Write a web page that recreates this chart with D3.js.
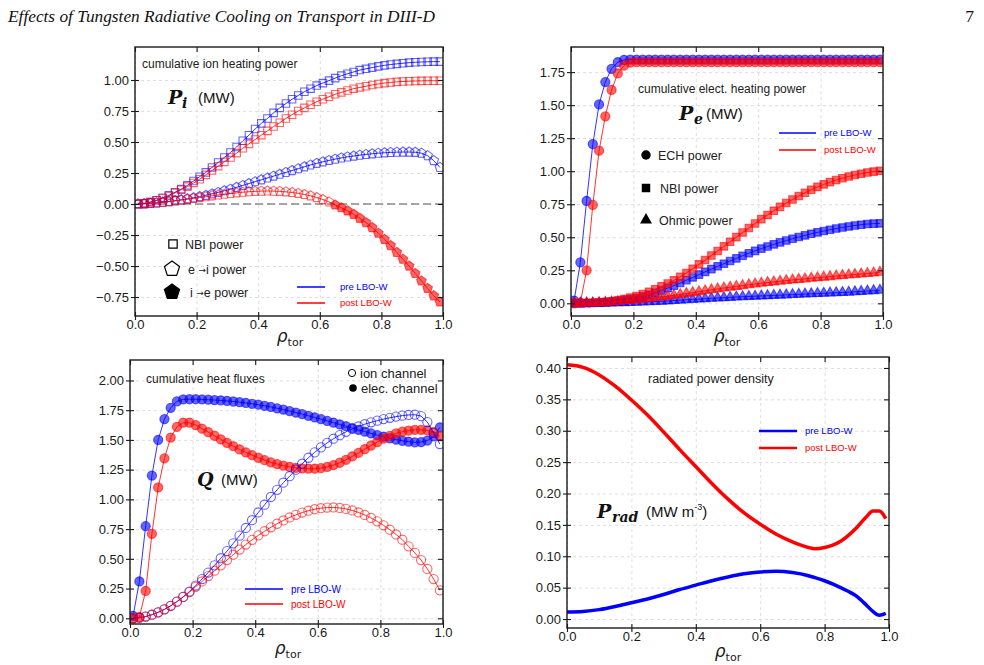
<!DOCTYPE html>
<html><head><meta charset="utf-8">
<script src="https://cdn.jsdelivr.net/npm/d3@7"></script>
<style>body{margin:0;background:#fff}svg{display:block}</style>
</head><body>
<svg id="chart" width="984" height="665"></svg>
<script>
// ---------------- DATA ----------------
const rho = [0.01,0.03,0.05,0.07,0.09,0.11,0.13,0.15,0.17,0.19,0.21,0.23,0.25,0.27,0.29,0.31,0.33,0.35,0.37,0.39,0.41,0.43,0.45,0.47,0.49,0.51,0.53,0.55,0.57,0.59,0.61,0.63,0.65,0.67,0.69,0.71,0.73,0.75,0.77,0.79,0.81,0.83,0.85,0.87,0.89,0.91,0.93,0.95,0.97,0.99];
const xTicks = [0.0,0.2,0.4,0.6,0.8,1.0];

// Panel 1: cumulative ion heating power
const piNbiPre  = [0.000,0.005,0.015,0.030,0.050,0.070,0.095,0.120,0.150,0.185,0.220,0.255,0.295,0.335,0.375,0.415,0.460,0.510,0.555,0.605,0.650,0.690,0.735,0.775,0.810,0.845,0.875,0.905,0.930,0.955,0.975,0.995,1.015,1.035,1.050,1.065,1.080,1.090,1.100,1.110,1.118,1.125,1.130,1.135,1.140,1.143,1.145,1.147,1.148,1.148];
const piNbiPost = [0.000,0.005,0.015,0.030,0.045,0.065,0.090,0.115,0.140,0.170,0.200,0.235,0.270,0.305,0.340,0.375,0.410,0.450,0.485,0.520,0.555,0.590,0.625,0.655,0.690,0.720,0.750,0.775,0.800,0.825,0.845,0.865,0.885,0.900,0.915,0.930,0.940,0.950,0.960,0.968,0.975,0.980,0.985,0.988,0.990,0.992,0.993,0.994,0.994,0.994];
const piExPre   = [0.000,0.002,0.005,0.010,0.015,0.020,0.027,0.034,0.042,0.050,0.060,0.070,0.082,0.094,0.107,0.120,0.135,0.150,0.165,0.180,0.195,0.210,0.225,0.240,0.255,0.270,0.285,0.300,0.315,0.328,0.340,0.352,0.362,0.372,0.380,0.387,0.394,0.400,0.405,0.410,0.413,0.416,0.418,0.419,0.419,0.417,0.410,0.390,0.350,0.295];
const piExPost  = [0.000,0.002,0.005,0.009,0.014,0.019,0.025,0.031,0.038,0.045,0.052,0.059,0.066,0.073,0.079,0.085,0.090,0.095,0.099,0.102,0.104,0.105,0.104,0.102,0.098,0.093,0.086,0.077,0.066,0.052,0.036,0.017,-0.008,-0.030,-0.055,-0.083,-0.115,-0.150,-0.190,-0.235,-0.285,-0.335,-0.390,-0.445,-0.500,-0.560,-0.620,-0.680,-0.740,-0.790];
const piTicks = [-0.75,-0.50,-0.25,0.00,0.25,0.50,0.75,1.00];

// Panel 2: cumulative electron heating power
const peEchPre  = [0.020,0.310,0.775,1.205,1.505,1.675,1.775,1.825,1.842,1.845,1.845,1.845,1.845,1.845,1.845,1.845,1.845,1.845,1.845,1.845,1.845,1.845,1.845,1.845,1.845,1.845,1.845,1.845,1.845,1.845,1.845,1.845,1.845,1.845,1.845,1.845,1.845,1.845,1.845,1.845,1.845,1.845,1.845,1.845,1.845,1.845,1.845,1.845,1.845,1.845];
const peEchPost = [0.000,0.005,0.250,0.745,1.155,1.415,1.615,1.740,1.800,1.822,1.825,1.825,1.825,1.825,1.825,1.825,1.825,1.825,1.825,1.825,1.825,1.825,1.825,1.825,1.825,1.825,1.825,1.825,1.825,1.825,1.825,1.825,1.825,1.825,1.825,1.825,1.825,1.825,1.825,1.825,1.825,1.825,1.825,1.825,1.825,1.825,1.825,1.825,1.825,1.825];
const peNbiPre  = [0.000,0.000,0.001,0.002,0.004,0.007,0.011,0.016,0.022,0.030,0.040,0.052,0.065,0.080,0.097,0.115,0.134,0.154,0.175,0.196,0.217,0.238,0.259,0.280,0.300,0.320,0.340,0.360,0.379,0.397,0.414,0.430,0.446,0.461,0.475,0.489,0.502,0.514,0.526,0.537,0.547,0.557,0.566,0.574,0.582,0.589,0.595,0.600,0.603,0.605];
const peNbiPost = [0.000,0.000,0.002,0.004,0.007,0.011,0.016,0.023,0.032,0.043,0.056,0.071,0.088,0.107,0.128,0.150,0.174,0.200,0.230,0.262,0.295,0.328,0.362,0.396,0.431,0.466,0.501,0.536,0.570,0.604,0.637,0.669,0.700,0.730,0.759,0.786,0.812,0.837,0.860,0.881,0.900,0.917,0.933,0.947,0.960,0.971,0.981,0.990,0.997,1.003];
const peOhmPre  = [0.000,0.000,0.000,0.001,0.001,0.002,0.003,0.004,0.005,0.006,0.008,0.010,0.012,0.014,0.016,0.018,0.021,0.024,0.027,0.030,0.032,0.035,0.038,0.040,0.043,0.045,0.048,0.050,0.052,0.054,0.056,0.058,0.060,0.062,0.064,0.066,0.068,0.070,0.072,0.074,0.076,0.078,0.080,0.082,0.084,0.087,0.090,0.093,0.096,0.099];
const peOhmPost = [0.000,0.001,0.002,0.003,0.005,0.007,0.010,0.013,0.017,0.021,0.026,0.031,0.036,0.042,0.048,0.054,0.060,0.067,0.074,0.081,0.088,0.095,0.102,0.109,0.116,0.122,0.128,0.134,0.140,0.146,0.152,0.157,0.162,0.167,0.172,0.177,0.181,0.185,0.190,0.194,0.198,0.202,0.206,0.210,0.214,0.218,0.222,0.226,0.230,0.235];
const peTicks = [0.00,0.25,0.50,0.75,1.00,1.25,1.50,1.75];

// Panel 3: cumulative heat fluxes
const qElecPre  = [0.020,0.310,0.775,1.200,1.500,1.675,1.770,1.825,1.840,1.842,1.842,1.840,1.838,1.835,1.832,1.828,1.823,1.817,1.811,1.804,1.796,1.787,1.777,1.766,1.755,1.743,1.730,1.717,1.703,1.689,1.675,1.660,1.645,1.630,1.615,1.600,1.585,1.570,1.555,1.540,1.527,1.514,1.503,1.493,1.485,1.480,1.482,1.495,1.530,1.605];
const qElecPost = [0.000,0.010,0.230,0.710,1.100,1.345,1.520,1.610,1.645,1.645,1.625,1.595,1.565,1.535,1.505,1.475,1.447,1.420,1.395,1.372,1.350,1.330,1.312,1.297,1.284,1.273,1.265,1.260,1.258,1.258,1.263,1.273,1.288,1.308,1.333,1.361,1.391,1.422,1.453,1.482,1.510,1.534,1.554,1.569,1.579,1.585,1.585,1.580,1.565,1.530];
const qIonPre   = [0.000,0.005,0.015,0.030,0.050,0.075,0.105,0.140,0.180,0.225,0.275,0.330,0.385,0.445,0.505,0.565,0.630,0.695,0.760,0.825,0.890,0.955,1.020,1.080,1.140,1.195,1.250,1.300,1.350,1.395,1.437,1.475,1.510,1.540,1.568,1.592,1.613,1.632,1.648,1.662,1.675,1.686,1.696,1.704,1.710,1.712,1.700,1.650,1.560,1.465];
const qIonPost  = [0.000,0.005,0.015,0.030,0.050,0.075,0.105,0.140,0.180,0.220,0.265,0.310,0.355,0.400,0.445,0.490,0.535,0.578,0.620,0.660,0.697,0.732,0.765,0.795,0.823,0.848,0.870,0.889,0.905,0.917,0.926,0.931,0.932,0.928,0.920,0.907,0.890,0.869,0.844,0.815,0.782,0.745,0.705,0.661,0.605,0.550,0.490,0.415,0.330,0.235];
const qTicks = [0.00,0.25,0.50,0.75,1.00,1.25,1.50,1.75,2.00];

// Panel 4: radiated power density
const rhoRad   = [0.00,0.05,0.10,0.15,0.20,0.25,0.30,0.35,0.40,0.45,0.50,0.55,0.60,0.65,0.70,0.75,0.77,0.80,0.85,0.90,0.93,0.95,0.97,0.99];
const radPost  = [0.405,0.401,0.389,0.371,0.349,0.325,0.298,0.270,0.243,0.216,0.191,0.169,0.151,0.135,0.123,0.114,0.112,0.114,0.124,0.146,0.163,0.172,0.172,0.160];
const radPre   = [0.011,0.012,0.015,0.020,0.026,0.032,0.039,0.047,0.054,0.061,0.067,0.072,0.075,0.076,0.074,0.069,0.066,0.061,0.050,0.036,0.022,0.012,0.006,0.009];
const radTicks = [0.00,0.05,0.10,0.15,0.20,0.25,0.30,0.35,0.40];

const caseNames = ["pre LBO-W","post LBO-W"];

// ---------------- DRAWING ----------------
const svg = d3.select('#chart');
const SANS = '"Liberation Sans", Arial, Helvetica, sans-serif';
const SERIF_B = '"DejaVu Serif", "Liberation Serif", serif';
const BLUE = '#0000ff', RED = '#ff0000', INK = '#1a1a1a';
const defs = svg.append('defs');

const pentagon = { draw(ctx, size) {
  const r = Math.sqrt(size / 2.3776);
  for (let i = 0; i < 5; i++) {
    const a = -Math.PI/2 + i*2*Math.PI/5;
    const px = r*Math.cos(a), py = r*Math.sin(a);
    if (i === 0) ctx.moveTo(px, py); else ctx.lineTo(px, py);
  }
  ctx.closePath();
}};

function gridStyle(s) {
  s.select('.domain').remove();
  s.selectAll('.tick line').attr('stroke', '#d6d6d6').attr('stroke-dasharray', '3,3').attr('stroke-width', 0.8);
}
function labelStyle(s) {
  s.select('.domain').remove();
  s.selectAll('text').attr('font-size', 13).attr('font-family', SANS).attr('fill', INK);
}
function tickStyle(s) {
  s.select('.domain').remove();
  s.selectAll('.tick line').attr('stroke', INK).attr('stroke-width', 1.1);
}

function makePanel(o) {
  const x = d3.scaleLinear().domain([0, 1]).range([o.left, o.right]);
  const y = d3.scaleLinear().domain(o.yDomain).range([o.bottom, o.top]);
  const w = o.right - o.left, h = o.bottom - o.top;
  const g = svg.append('g');
  g.append('g').attr('transform', `translate(0,${o.bottom})`)
    .call(d3.axisBottom(x).tickValues(xTicks).tickSize(-h).tickFormat('')).call(gridStyle);
  g.append('g').attr('transform', `translate(${o.left},0)`)
    .call(d3.axisLeft(y).tickValues(o.yTicks).tickSize(-w).tickFormat('')).call(gridStyle);
  defs.append('clipPath').attr('id', 'clip' + o.id).append('rect')
    .attr('x', o.left).attr('y', o.top).attr('width', w).attr('height', h);
  const plot = g.append('g').attr('clip-path', `url(#clip${o.id})`);
  return { g, plot, x, y, o };
}

function finishPanel(P) {
  const { g, x, y, o } = P;
  g.append('g').attr('transform', `translate(0,${o.bottom})`)
    .call(d3.axisBottom(x).tickValues(xTicks).tickFormat(d3.format('.1f')).tickSize(0).tickPadding(4)).call(labelStyle);
  g.append('g').attr('transform', `translate(${o.left},0)`)
    .call(d3.axisLeft(y).tickValues(o.yTicks).tickFormat(d3.format(o.yFmt)).tickSize(0).tickPadding(6)).call(labelStyle);
  // tick marks (in/out on left & bottom, inward on right & top)
  g.append('g').attr('transform', `translate(0,${o.bottom})`).call(d3.axisBottom(x).tickValues(xTicks).tickFormat('').tickSize(4)).call(tickStyle);
  g.append('g').attr('transform', `translate(0,${o.bottom})`).call(d3.axisTop(x).tickValues(xTicks).tickFormat('').tickSize(4)).call(tickStyle);
  g.append('g').attr('transform', `translate(0,${o.top})`).call(d3.axisBottom(x).tickValues(xTicks).tickFormat('').tickSize(5)).call(tickStyle);
  g.append('g').attr('transform', `translate(${o.left},0)`).call(d3.axisLeft(y).tickValues(o.yTicks).tickFormat('').tickSize(4)).call(tickStyle);
  g.append('g').attr('transform', `translate(${o.left},0)`).call(d3.axisRight(y).tickValues(o.yTicks).tickFormat('').tickSize(4)).call(tickStyle);
  g.append('g').attr('transform', `translate(${o.right},0)`).call(d3.axisLeft(y).tickValues(o.yTicks).tickFormat('').tickSize(5)).call(tickStyle);
  g.append('rect').attr('x', o.left).attr('y', o.top)
    .attr('width', o.right - o.left).attr('height', o.bottom - o.top)
    .attr('fill', 'none').attr('stroke', INK).attr('stroke-width', 1.4);
  // x-axis title rho_tor
  const t = g.append('text').attr('x', o.xTitle[0]).attr('y', o.xTitle[1])
    .attr('text-anchor', 'middle').attr('fill', INK).attr('font-family', '"DejaVu Sans", sans-serif');
  t.append('tspan').attr('font-size', 17).attr('font-style', 'italic').text('ρ');
  t.append('tspan').attr('font-size', 11).attr('dy', 4).text('tor');
}

function drawSeries(P, xs, ys, color, sym, size, filled) {
  const line = d3.line().x((d, i) => P.x(xs[i])).y(d => P.y(d));
  P.plot.append('path').datum(ys).attr('d', line).attr('fill', 'none')
    .attr('stroke', color).attr('stroke-width', 1).attr('stroke-opacity', 0.8);
  P.plot.append('g').selectAll('path').data(ys).join('path')
    .attr('transform', (d, i) => `translate(${P.x(xs[i])},${P.y(d)})`)
    .attr('d', d3.symbol().type(sym).size(size)())
    .attr('fill', d => filled(d) ? color : 'none').attr('fill-opacity', 0.6)
    .attr('stroke', color).attr('stroke-opacity', 0.6).attr('stroke-width', 1.1);
}

function lineLegend(g, x0, x1, ys, fontSize, lw) {
  [BLUE, RED].forEach((c, i) => {
    g.append('line').attr('x1', x0).attr('x2', x1).attr('y1', ys[i]).attr('y2', ys[i])
      .attr('stroke', c).attr('stroke-width', lw);
    g.append('text').attr('x', x1 + (ys.gap || 9)).attr('y', ys[i] + fontSize * 0.36)
      .attr('font-family', SANS).attr('font-size', fontSize).attr('fill', c).text(caseNames[i]);
  });
}

function note(g, x, y, txt, size) {
  g.append('text').attr('x', x).attr('y', y).attr('font-family', SANS)
    .attr('font-size', size || 12).attr('fill', '#222').text(txt);
}

function bigLabel(g, x, y, main, sub, subX, unitX, unit, sup) {
  g.append('text').attr('x', x).attr('y', y).attr('font-family', SERIF_B)
    .attr('font-weight', 'bold').attr('font-style', 'italic').attr('font-size', 19).attr('fill', '#111').text(main);
  if (sub) g.append('text').attr('x', subX).attr('y', y + 4).attr('font-family', SERIF_B)
    .attr('font-weight', 'bold').attr('font-style', 'italic').attr('font-size', 14).attr('fill', '#111').text(sub);
  const u = g.append('text').attr('x', unitX).attr('y', y - 1).attr('font-family', SANS)
    .attr('font-size', 15).attr('fill', '#111').text(unit);
  if (sup) u.append('tspan').attr('font-size', 9).attr('dy', -7).text(sup);
  if (sup) u.append('tspan').attr('font-size', 15).attr('dy', 7).text(')');
}

function arrowText(g, x, y, a, b) {
  const t = g.append('text').attr('x', x).attr('y', y).attr('font-family', SANS).attr('font-size', 12.5).attr('fill', '#222');
  t.append('tspan').text(a + ' ');
  t.append('tspan').attr('font-family', '"DejaVu Sans", sans-serif').attr('font-size', 9).attr('dy', -1).text('→');
  t.append('tspan').attr('dy', 1).text(b + ' power');
}

// header
svg.append('text').attr('x', 8).attr('y', 22).attr('font-family', '"Liberation Serif", serif')
  .attr('font-style', 'italic').attr('font-size', 17.5).attr('fill', '#111')
  .attr('textLength', 427).attr('lengthAdjust', 'spacingAndGlyphs')
  .text('Effects of Tungsten Radiative Cooling on Transport in DIII-D');
svg.append('text').attr('x', 974).attr('y', 22).attr('text-anchor', 'end').attr('font-family', '"Liberation Serif", serif')
  .attr('font-size', 17.5).attr('fill', '#111').text('7');

// ---- Panel 1: P_i ----
const P1 = makePanel({ id: 1, left: 135, right: 443, top: 47, bottom: 316, yDomain: [-0.903, 1.266], yTicks: piTicks, yFmt: '.2f', xTitle: [290, 342] });
P1.plot.append('line').attr('x1', P1.x(0)).attr('x2', P1.x(1)).attr('y1', P1.y(0)).attr('y2', P1.y(0))
  .attr('stroke', '#8a8a8a').attr('stroke-width', 1.3).attr('stroke-dasharray', '8,4');
drawSeries(P1, rho, piNbiPre, BLUE, d3.symbolSquare, 56, () => false);
drawSeries(P1, rho, piNbiPost, RED, d3.symbolSquare, 56, () => false);
drawSeries(P1, rho, piExPre, BLUE, pentagon, 60, d => d < 0);
drawSeries(P1, rho, piExPost, RED, pentagon, 60, d => d < 0);
finishPanel(P1);
note(P1.g, 142, 68, 'cumulative ion heating power');
bigLabel(P1.g, 168, 104, 'P', 'i', 182, 198, '(MW)');
P1.g.append('path').attr('transform', 'translate(173,244)').attr('d', d3.symbol().type(d3.symbolSquare).size(70)())
  .attr('fill', 'none').attr('stroke', '#000').attr('stroke-width', 1.2);
P1.g.append('path').attr('transform', 'translate(172,269)').attr('d', d3.symbol().type(pentagon).size(150)())
  .attr('fill', 'none').attr('stroke', '#000').attr('stroke-width', 1.2);
P1.g.append('path').attr('transform', 'translate(172,292)').attr('d', d3.symbol().type(pentagon).size(150)())
  .attr('fill', '#000').attr('stroke', '#000').attr('stroke-width', 1.2);
note(P1.g, 185, 248.5, 'NBI power', 12.5);
arrowText(P1.g, 188, 273.5, 'e', 'i');
arrowText(P1.g, 190, 296.5, 'i', 'e');
{ const ys = [287, 303]; ys.gap = 15; lineLegend(P1.g, 297, 325, ys, 9.5, 1.5); }

// ---- Panel 2: P_e ----
const P2 = makePanel({ id: 2, left: 571, right: 883, top: 47, bottom: 316, yDomain: [-0.096, 1.94], yTicks: peTicks, yFmt: '.2f', xTitle: [727, 342] });
drawSeries(P2, rho, peEchPre, BLUE, d3.symbolCircle, 66, () => true);
drawSeries(P2, rho, peEchPost, RED, d3.symbolCircle, 66, () => true);
drawSeries(P2, rho, peNbiPre, BLUE, d3.symbolSquare, 56, () => true);
drawSeries(P2, rho, peNbiPost, RED, d3.symbolSquare, 56, () => true);
drawSeries(P2, rho, peOhmPre, BLUE, d3.symbolTriangle, 46, () => true);
drawSeries(P2, rho, peOhmPost, RED, d3.symbolTriangle, 46, () => true);
finishPanel(P2);
note(P2.g, 638, 93, 'cumulative elect. heating power');
bigLabel(P2.g, 679, 120, 'P', 'e', 694, 706, '(MW)');
P2.g.append('path').attr('transform', 'translate(646,155)').attr('d', d3.symbol().type(d3.symbolCircle).size(70)()).attr('fill', '#000');
P2.g.append('path').attr('transform', 'translate(646,188)').attr('d', d3.symbol().type(d3.symbolSquare).size(72)()).attr('fill', '#000');
P2.g.append('path').attr('transform', 'translate(646,220)').attr('d', d3.symbol().type(d3.symbolTriangle).size(62)()).attr('fill', '#000');
note(P2.g, 658, 159.5, 'ECH power', 12.5);
note(P2.g, 660, 192.5, 'NBI power', 12.5);
note(P2.g, 659, 224.5, 'Ohmic power', 12.5);
{ const ys = [133, 150]; ys.gap = 8; lineLegend(P2.g, 779, 816, ys, 9.5, 1.5); }

// ---- Panel 3: Q ----
const P3 = makePanel({ id: 3, left: 130, right: 443, top: 360, bottom: 624, yDomain: [-0.048, 2.172], yTicks: qTicks, yFmt: '.2f', xTitle: [288, 654] });
drawSeries(P3, rho, qElecPre, BLUE, d3.symbolCircle, 66, () => true);
drawSeries(P3, rho, qElecPost, RED, d3.symbolCircle, 66, () => true);
drawSeries(P3, rho, qIonPre, BLUE, d3.symbolCircle, 66, () => false);
drawSeries(P3, rho, qIonPost, RED, d3.symbolCircle, 66, () => false);
finishPanel(P3);
note(P3.g, 146, 383, 'cumulative heat fluxes');
bigLabel(P3.g, 197, 486, 'Q', null, 0, 221, '(MW)');
P3.g.append('circle').attr('cx', 352).attr('cy', 373).attr('r', 3.6).attr('fill', 'none').attr('stroke', '#000').attr('stroke-width', 1);
P3.g.append('circle').attr('cx', 353).attr('cy', 388).attr('r', 3.8).attr('fill', '#000');
note(P3.g, 360, 377.5, 'ion channel', 13);
note(P3.g, 361, 392.5, 'elec. channel', 13);
{ const ys = [589, 604]; ys.gap = 8; lineLegend(P3.g, 245, 283, ys, 10, 1.5); }

// ---- Panel 4: P_rad ----
const P4 = makePanel({ id: 4, left: 567, right: 889, top: 357, bottom: 628, yDomain: [-0.0143, 0.4175], yTicks: radTicks, yFmt: '.2f', xTitle: [728, 657] });
[[radPre, BLUE], [radPost, RED]].forEach(([ys, c]) => {
  const line = d3.line().x((d, i) => P4.x(rhoRad[i])).y(d => P4.y(d)).curve(d3.curveMonotoneX);
  P4.plot.append('path').datum(ys).attr('d', line).attr('fill', 'none')
    .attr('stroke', c).attr('stroke-width', 3.5).attr('stroke-linejoin', 'round');
});
finishPanel(P4);
note(P4.g, 648, 383, 'radiated power density', 12.5);
{ const ys = [431, 448]; ys.gap = 8; lineLegend(P4.g, 759, 797, ys, 9.5, 2.5); }
bigLabel(P4.g, 597, 518, 'P', 'rad', 612, 646, '(MW m', '-3');
</script>
</body></html>
